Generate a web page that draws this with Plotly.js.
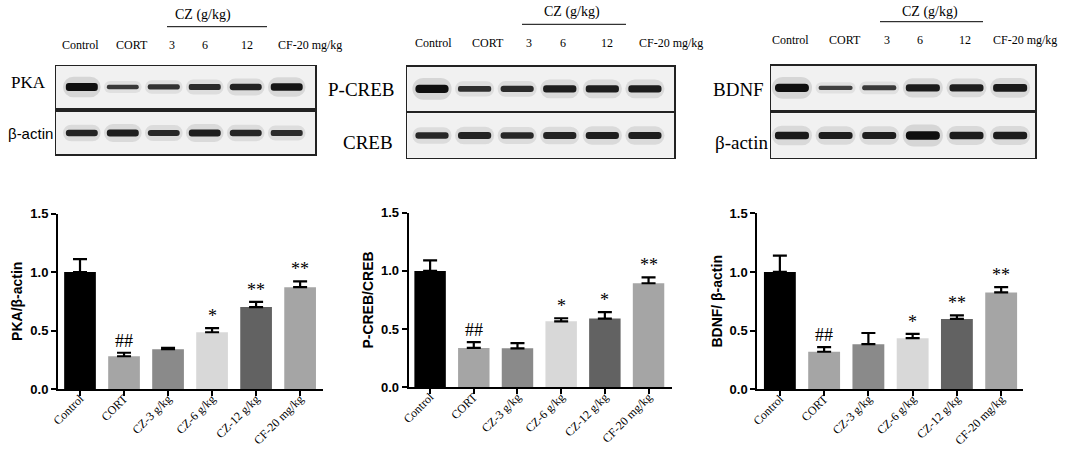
<!DOCTYPE html>
<html>
<head>
<meta charset="utf-8">
<script src="https://cdn.plot.ly/plotly-3.0.1.min.js"></script>
<style>html,body{margin:0;padding:0;background:#fff}</style>
</head>
<body>
<div id="chart" style="width:1065px;height:450px"></div>
<script>
const groups = ['Control', 'CORT', 'CZ-3 g/kg', 'CZ-6 g/kg', 'CZ-12 g/kg', 'CF-20 mg/kg'];
const laneLabels = ['Control', 'CORT', '3', '6', '12', 'CF-20 mg/kg'];
const barColors = ['#000000', '#a5a5a5', '#8a8a8a', '#d8d8d8', '#626262', '#a5a5a5'];

const pka = [1.0, 0.28, 0.34, 0.485, 0.70, 0.87];
const pkaErr = [0.11, 0.03, 0.012, 0.035, 0.045, 0.05];
const pkaSig = ['', '##', '', '*', '**', '**'];

const pcreb = [1.0, 0.338, 0.335, 0.567, 0.59, 0.894];
const pcrebErr = [0.09, 0.05, 0.045, 0.026, 0.055, 0.05];
const pcrebSig = ['', '##', '', '*', '*', '**'];

const bdnf = [1.0, 0.32, 0.385, 0.436, 0.60, 0.826];
const bdnfErr = [0.14, 0.04, 0.095, 0.037, 0.03, 0.044];
const bdnfSig = ['', '##', '', '*', '**', '**'];

// band strength of the blots, by eye, 0..1
const pkaBand = [1.0, 0.4, 0.5, 0.6, 0.72, 0.9];
const actinBand1 = [0.7, 0.78, 0.65, 0.78, 0.68, 0.58];
const pcrebBand = [1.0, 0.55, 0.6, 0.78, 0.78, 0.8];
const crebBand = [0.65, 0.72, 0.66, 0.72, 0.78, 0.78];
const bdnfBand = [1.0, 0.3, 0.4, 0.82, 0.78, 0.85];
const actinBand3 = [0.85, 0.78, 0.78, 1.0, 0.82, 0.82];

const W = 1065, H = 450;
const px = (x) => x / W;
const py = (y) => 1 - y / H;

const panels = [
  {vals: pka, err: pkaErr, sig: pkaSig, ytitle: 'PKA/β-actin',
   xd: [58, 323], yd: [389, 213.5], xr: [-0.5, 5.52],
   blotX: [56, 315], boxes: [[66, 108], [111.7, 154.3]], lanes: [-0.63, 5.69],
   bands: [pkaBand, actinBand1],
   rows: [{t: 'PKA', x: 28, y: 83, f: 'Liberation Serif', s: 17},
          {t: 'β-actin', x: 30, y: 133, f: 'Liberation Sans', s: 15}],
   colX: [80, 132, 172, 205, 247, 310], colY: 45, cz: [203, 15], czLine: [167, 267, 26.7]},
  {vals: pcreb, err: pcrebErr, sig: pcrebSig, ytitle: 'P-CREB/CREB',
   xd: [408.7, 671.7], yd: [387.3, 212.7], xr: [-0.49, 5.53],
   blotX: [407.3, 674.3], boxes: [[66.7, 111], [113.3, 157.7]], lanes: [-0.58, 5.69],
   bands: [pcrebBand, crebBand],
   rows: [{t: 'P-CREB', x: 361, y: 90, f: 'Liberation Serif', s: 19},
          {t: 'CREB', x: 368, y: 142, f: 'Liberation Serif', s: 19}],
   colX: [433, 488, 529, 563, 607, 671], colY: 43, cz: [572, 12], czLine: [522, 626, 24.3]},
  {vals: bdnf, err: bdnfErr, sig: bdnfSig, ytitle: 'BDNF/ β-actin',
   xd: [757.3, 1023.3], yd: [389.3, 213.3], xr: [-0.51, 5.5],
   blotX: [771, 1035], boxes: [[65.7, 110], [113.3, 157.7]], lanes: [-0.48, 5.57],
   bands: [bdnfBand, actinBand3],
   rows: [{t: 'BDNF', x: 738, y: 90, f: 'Liberation Serif', s: 19},
          {t: 'β-actin', x: 741, y: 142, f: 'Liberation Serif', s: 19}],
   colX: [790, 845, 887, 920, 965, 1025], colY: 40, cz: [930, 12], czLine: [880, 983, 21.7]}
];

const traces = [];
const layout = {
  width: W, height: H,
  margin: {l: 0, r: 0, t: 0, b: 0},
  paper_bgcolor: '#fff', plot_bgcolor: 'rgba(0,0,0,0)',
  showlegend: false, barmode: 'overlay',
  font: {family: 'Liberation Sans', color: '#000'},
  annotations: [], shapes: []
};

let ax = 1;
const axName = (n) => (n === 1 ? '' : String(n));

panels.forEach((p) => {
  // bar chart
  const n = axName(ax);
  traces.push({
    type: 'bar', x: groups, y: p.vals, xaxis: 'x' + n, yaxis: 'y' + n,
    width: 0.72,
    marker: {color: barColors, line: {width: 0}},
    error_y: {type: 'data', array: p.err, arrayminus: p.err.map(() => 0),
              symmetric: false, color: '#000', thickness: 2.2, width: 7}
  });
  layout['xaxis' + n] = {
    domain: [px(p.xd[0]), px(p.xd[1])], anchor: 'y' + n, range: p.xr,
    showline: true, linecolor: '#000', linewidth: 2, ticks: 'outside',
    ticklen: 5, tickwidth: 2, tickcolor: '#000', tickangle: -45,
    ticklabelstandoff: -9,
    tickfont: {family: 'Liberation Serif', size: 12, color: '#000'},
    showgrid: false, zeroline: false, fixedrange: true
  };
  layout['yaxis' + n] = {
    domain: [py(p.yd[0]), py(p.yd[1])], anchor: 'x' + n, range: [0, 1.5],
    tickvals: [0, 0.5, 1, 1.5], tickformat: '.1f',
    showline: true, linecolor: '#000', linewidth: 2, ticks: 'outside',
    ticklen: 5, tickwidth: 2, tickcolor: '#000',
    tickfont: {family: 'Liberation Sans', size: 13, weight: 700, color: '#000'},
    title: {text: p.ytitle, standoff: 4,
            font: {family: 'Liberation Sans', size: 14, weight: 700, color: '#000'}},
    showgrid: false, zeroline: false, fixedrange: true
  };
  p.sig.forEach((s, i) => {
    if (!s) return;
    layout.annotations.push({
      xref: 'x' + n, yref: 'y' + n, x: groups[i], y: p.vals[i] + p.err[i],
      text: s, showarrow: false, yanchor: 'bottom', yshift: 0,
      font: {family: 'Liberation Serif', size: 18, color: '#000'}
    });
  });
  ax++;

  // blot boxes
  p.boxes.forEach((b, k) => {
    const m = axName(ax);
    const band = p.bands[k];
    const lanes = band.map((v, i) => i);
    const thick = band.map((v) => 0.06 + 0.13 * v);
    layout.shapes.push({
      type: 'rect', xref: 'x' + m + ' domain', yref: 'y' + m + ' domain',
      x0: 0, x1: 1, y0: 0, y1: 1, layer: 'below',
      fillcolor: '#f1f1f1', line: {width: 0}
    });
    // soft halo behind the band
    traces.push({
      type: 'bar', x: lanes, y: thick.map((t) => t * 2.6),
      base: thick.map((t) => 0.5 - t * 1.3),
      xaxis: 'x' + m, yaxis: 'y' + m, width: 0.92,
      marker: {color: band.map((v) => `rgba(0,0,0,${0.04 + 0.07 * v})`),
               line: {width: 0}, cornerradius: '50%'}
    });
    traces.push({
      type: 'bar', x: lanes, y: thick, base: thick.map((t) => 0.5 - t / 2),
      xaxis: 'x' + m, yaxis: 'y' + m, width: 0.78,
      marker: {color: band.map((v) => {
                 const c = Math.round(15 + (1 - v) * 70);
                 return `rgb(${c},${c},${c})`;
               }),
               line: {width: 0}, cornerradius: '50%'}
    });
    const blotAxis = {
      showline: true, mirror: true, linecolor: '#222', linewidth: 1.5,
      showticklabels: false, ticks: '', showgrid: false, zeroline: false,
      fixedrange: true
    };
    layout['xaxis' + m] = Object.assign({}, blotAxis, {
      domain: [px(p.blotX[0]), px(p.blotX[1])], anchor: 'y' + m, range: p.lanes
    });
    layout['yaxis' + m] = Object.assign({}, blotAxis, {
      domain: [py(b[1]), py(b[0])], anchor: 'x' + m, range: [0, 1]
    });
    ax++;
  });

  // labels over the blots
  laneLabels.forEach((t, i) => {
    layout.annotations.push({
      xref: 'paper', yref: 'paper', x: px(p.colX[i]), y: py(p.colY),
      text: t, showarrow: false, xanchor: 'center', yanchor: 'middle',
      font: {family: 'Liberation Serif', size: 12, color: '#000'}
    });
  });
  layout.annotations.push({
    xref: 'paper', yref: 'paper', x: px(p.cz[0]), y: py(p.cz[1]),
    text: 'CZ (g/kg)', showarrow: false, xanchor: 'center', yanchor: 'middle',
    font: {family: 'Liberation Serif', size: 14, color: '#000'}
  });
  layout.shapes.push({
    type: 'line', xref: 'paper', yref: 'paper',
    x0: px(p.czLine[0]), x1: px(p.czLine[1]),
    y0: py(p.czLine[2]), y1: py(p.czLine[2]),
    line: {color: '#000', width: 1}
  });
  p.rows.forEach((r) => {
    layout.annotations.push({
      xref: 'paper', yref: 'paper', x: px(r.x), y: py(r.y),
      text: r.t, showarrow: false, xanchor: 'center', yanchor: 'middle',
      font: {family: r.f, size: r.s, color: '#000'}
    });
  });
});

Plotly.newPlot('chart', traces, layout, {staticPlot: true, displayModeBar: false});
</script>
</body>
</html>
